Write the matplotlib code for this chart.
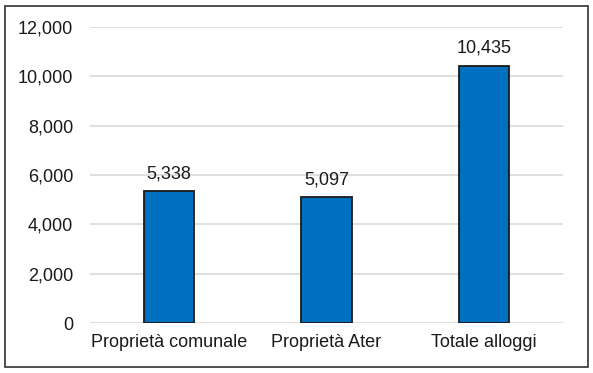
import matplotlib
matplotlib.use('Agg')
import matplotlib.pyplot as plt
from matplotlib.patches import Rectangle

categories = ['Proprietà comunale', 'Proprietà Ater', 'Totale alloggi']
values = [5338, 5097, 10435]
yticks = [0, 2000, 4000, 6000, 8000, 10000, 12000]

plt.rcParams['font.family'] = ['Liberation Sans', 'DejaVu Sans']

fig = plt.figure(figsize=(5.93, 3.73), dpi=100)
ax = fig.add_axes([90/593, 50/373, 473/593, 296/373])

x = range(len(categories))
bars = ax.bar(x, values, width=0.32, color='#0070C0', edgecolor='#1a1a1a', linewidth=1.3, zorder=3)
for b, v in zip(bars, values):
    ax.text(b.get_x() + b.get_width()/2, v + 350, '{:,}'.format(v),
            ha='center', va='bottom', fontsize=13, color='#1a1a1a')

ax.set_xlim(-0.5, 2.5)
ax.set_ylim(0, 12000)
ax.set_yticks(yticks)
ax.set_yticklabels(['{:,}'.format(t) for t in yticks])
ax.set_xticks(list(x))
ax.set_xticklabels(categories)
ax.tick_params(axis='both', length=0, labelsize=13, colors='#1a1a1a')
ax.tick_params(axis='y', pad=12)
ax.tick_params(axis='x', pad=8)
ax.grid(axis='y', color='#d9d9d9', linewidth=1.2, zorder=0)
for s in ax.spines.values():
    s.set_visible(False)

# outer border of the chart area
fig.patches.append(Rectangle((5/593, 6/373), 583/593, 361/373, transform=fig.transFigure,
                             fill=False, edgecolor='#404040', linewidth=1.3))

fig.savefig('out.png', dpi=100)
